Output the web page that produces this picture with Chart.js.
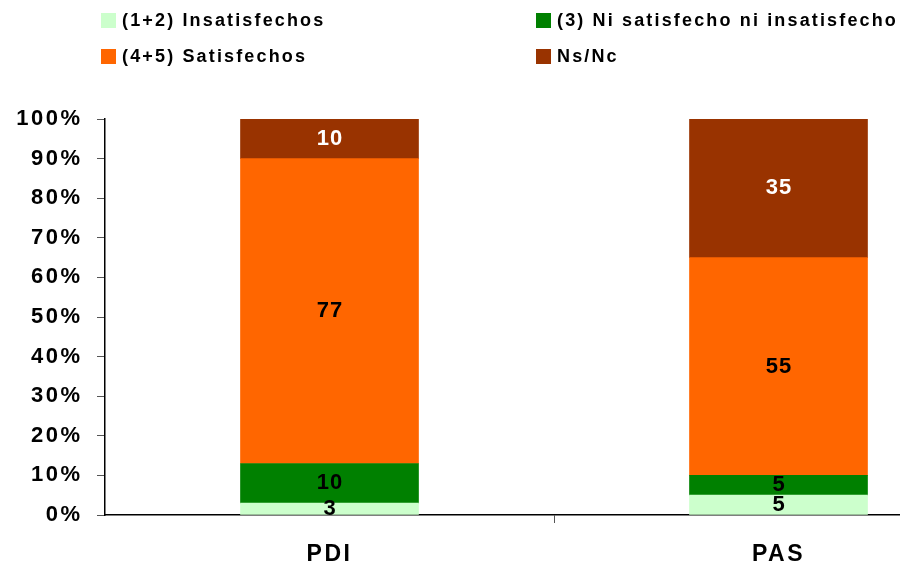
<!DOCTYPE html>
<html>
<head>
<meta charset="utf-8">
<script src="https://cdn.jsdelivr.net/npm/chart.js@4.4.1/dist/chart.umd.min.js"></script>
<style>
    body { margin: 0; background: #fff; }
    #wrap { position: relative; width: 900px; height: 566px; }
    #graph { position: absolute; left: 0; top: 0; }
    .item {
        position: absolute; height: 16px; display: flex; align-items: center;
        font: bold 18px "Liberation Sans", Arial, sans-serif;
        letter-spacing: 2.15px; white-space: nowrap; color: #000;
    }
    .item .box { width: 15px; height: 15px; margin-right: 6px; display: inline-block; }
</style>
</head>
<body>
<div id="wrap">
    <canvas id="graph" width="900" height="566"></canvas>
    <div id="legend"></div>
</div>
<script>
// categories and values (percent)
const categories = ['PDI', 'PAS'];
const catPos = [0.5, 1.5];
const seriesNames = ['(1+2) Insatisfechos', '(3) Ni satisfecho ni insatisfecho', '(4+5) Satisfechos', 'Ns/Nc'];
const insatisfechos = [3, 5];
const niNi = [10, 5];
const satisfechos = [77, 55];
const nsnc = [10, 35];
const yTicks = [0, 10, 20, 30, 40, 50, 60, 70, 80, 90, 100];

const colors = ['#CCFFCC', '#008000', '#FF6600', '#993300'];
const labelColors = ['#000', '#000', '#000', '#fff'];
const FONT = '"Liberation Sans", Arial, sans-serif';

// legend, two columns
const legendPos = [[101, 12], [536, 12], [101, 48], [536, 48]];
let legend = document.getElementById('legend');
seriesNames.forEach((name, i) => {
    let d = document.createElement('div');
    d.className = 'item';
    d.style.left = legendPos[i][0] + 'px';
    d.style.top = legendPos[i][1] + 'px';
    d.innerHTML = '<span class="box" style="background:' + colors[i] + '"></span>' + name;
    legend.appendChild(d);
});

function toPoints(vals) {
    return vals.map((v, i) => ({x: catPos[i], y: v}));
}

// wide letter spacing of the original
const spacing = {
    id: 'spacing',
    beforeUpdate(chart) { chart.ctx.letterSpacing = '2.5px'; },
    beforeDraw(chart) { chart.ctx.letterSpacing = '2.5px'; }
};

const valueLabels = {
    id: 'valueLabels',
    afterDatasetsDraw(chart) {
        const ctx = chart.ctx;
        chart.data.datasets.forEach((ds, i) => {
            const meta = chart.getDatasetMeta(i);
            meta.data.forEach((bar, j) => {
                ctx.save();
                ctx.font = 'bold 22px ' + FONT;
                ctx.letterSpacing = '1px';
                ctx.fillStyle = labelColors[i];
                ctx.textAlign = 'center';
                ctx.textBaseline = 'middle';
                ctx.fillText(String(ds.data[j].y), bar.x + 0.5, (bar.y + bar.base) / 2);
                ctx.restore();
            });
        });
    }
};

const sets = [insatisfechos, niNi, satisfechos, nsnc];
const ctx = document.getElementById('graph').getContext('2d');
let myChart = new Chart(ctx, {
    type: 'bar',
    data: {
        datasets: sets.map((s, i) => ({
            label: seriesNames[i],
            data: toPoints(s),
            backgroundColor: colors[i],
            borderWidth: 0,
            barThickness: 178
        }))
    },
    options: {
        responsive: false,
        animation: false,
        layout: {padding: {top: 119, right: 0, bottom: 0, left: 0}},
        plugins: {legend: {display: false}, tooltip: {enabled: false}},
        scales: {
            x: {
                type: 'linear',
                stacked: true,
                offset: false,
                min: 0,
                max: 795 / 449,
                afterBuildTicks: s => { s.ticks = [{value: 0.5}, {value: 1}, {value: 1.5}]; },
                afterFit: s => { s.height = 51; },
                border: {color: '#000', width: 1.5},
                grid: {
                    offset: false,
                    drawOnChartArea: false,
                    tickLength: 8,
                    tickColor: c => (c.tick && c.tick.value === 1) ? '#555' : 'rgba(0,0,0,0)'
                },
                ticks: {
                    autoSkip: false,
                    maxRotation: 0,
                    padding: 18,
                    color: '#000',
                    font: {family: FONT, size: 23, weight: 'bold'},
                    callback: v => {
                        let k = catPos.indexOf(v);
                        return k >= 0 ? categories[k] : '';
                    }
                }
            },
            y: {
                stacked: true,
                min: 0,
                max: 100,
                afterBuildTicks: s => { s.ticks = yTicks.map(v => ({value: v})); },
                afterFit: s => { s.width = 105; },
                border: {color: '#000', width: 1.5},
                grid: {drawOnChartArea: false, tickLength: 8, tickColor: '#555'},
                ticks: {
                    padding: 14.5,
                    color: '#000',
                    font: {family: FONT, size: 22, weight: 'bold'},
                    callback: v => v + '%'
                }
            }
        }
    },
    plugins: [spacing, valueLabels]
});
</script>
</body>
</html>
